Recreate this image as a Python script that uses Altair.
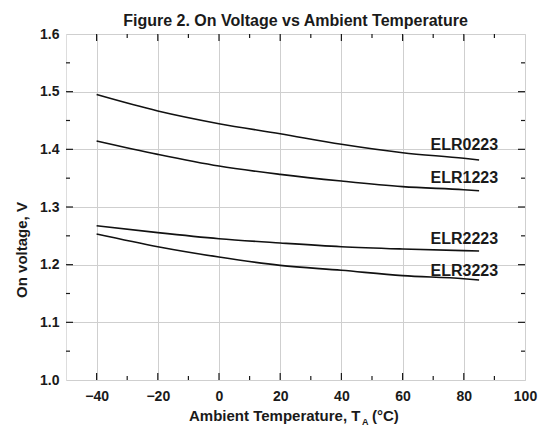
import altair as alt
import pandas as pd

# ---- data ----
temps = [-40, -20, 0, 20, 40, 60, 80, 85]
elr0223 = [1.495, 1.4665, 1.4445, 1.427, 1.4087, 1.394, 1.3844, 1.3815]
elr1223 = [1.4145, 1.3913, 1.371, 1.3566, 1.345, 1.3353, 1.330, 1.3283]
elr2223 = [1.2676, 1.2555, 1.245, 1.2376, 1.2312, 1.2272, 1.2243, 1.2237]
elr3223 = [1.2532, 1.2312, 1.2133, 1.1988, 1.1902, 1.181, 1.1757, 1.1734]
series_names = ["ELR0223", "ELR1223", "ELR2223", "ELR3223"]
label_volts = [1.398, 1.341, 1.2355, 1.181]
label_temp = 85

x_tick_values = [-40, -20, 0, 20, 40, 60, 80, 100]
y_tick_values = [1.0, 1.1, 1.2, 1.3, 1.4, 1.5, 1.6]
x_major = [-40, -20, 0, 20, 40, 60, 80]
x_minor = [-30, -10, 10, 30, 50, 70, 90]
y_major = [1.1, 1.2, 1.3, 1.4, 1.5]
y_minor = [1.05, 1.15, 1.25, 1.35, 1.45, 1.55]

title_text = "Figure 2. On Voltage vs Ambient Temperature"
x_title_main = "Ambient Temperature, T"
x_title_sub = "A"
x_title_end = "(°C)"
y_title = "On voltage, V"

# ---- build tables ----
rows = []
for name, vals in zip(series_names, [elr0223, elr1223, elr2223, elr3223]):
    for t, v in zip(temps, vals):
        rows.append({"series": name, "t": t, "v": v})
lines_df = pd.DataFrame(rows)
labels_df = pd.DataFrame({"series": series_names, "t": [label_temp] * 4, "v": label_volts})
xmaj_df = pd.DataFrame({"t": x_major})
xmin_df = pd.DataFrame({"t": x_minor})
ymaj_df = pd.DataFrame({"v": y_major})
ymin_df = pd.DataFrame({"v": y_minor})
one_df = pd.DataFrame({"k": [0]})

W, H = 459, 346
FONT = "Liberation Sans"
INK = "#1a1a1a"

xscale = alt.Scale(domain=[-50, 100], nice=False, zero=False)
yscale = alt.Scale(domain=[1.0, 1.6], nice=False, zero=False)
xaxis = alt.Axis(values=x_tick_values, title=None, grid=True, gridColor="#cfcfcf", gridWidth=1,
                 domain=False, ticks=False, tickSize=0, labelFont=FONT, labelFontWeight="bold",
                 labelFontSize=14, labelColor=INK, labelPadding=9, labelFlush=False)
yaxis = alt.Axis(values=y_tick_values, title=None, grid=True, gridColor="#cfcfcf", gridWidth=1,
                 domain=False, ticks=False, tickSize=0, labelFont=FONT, labelFontWeight="bold",
                 labelFontSize=14, labelColor=INK, labelPadding=7, labelFlush=False, format=".1f")


def X(f):
    return alt.X(f, type="quantitative", scale=xscale, axis=xaxis)


def Y(f):
    return alt.Y(f, type="quantitative", scale=yscale, axis=yaxis)


lines = alt.Chart(lines_df).mark_line(color="#111111", strokeWidth=1.6, interpolate="monotone").encode(
    x=X("t"), y=Y("v"), detail="series:N"
)

labels = alt.Chart(labels_df).mark_text(
    align="right", baseline="alphabetic", dx=19, font=FONT, fontWeight="bold", fontSize=16, color=INK
).encode(x=X("t"), y=Y("v"), text="series:N")

tick_style = dict(color=INK, strokeWidth=1.2)
xb_major = alt.Chart(xmaj_df).mark_rule(**tick_style).encode(x=X("t"), y=alt.value(H), y2=alt.value(H - 7))
xt_major = alt.Chart(xmaj_df).mark_rule(**tick_style).encode(x=X("t"), y=alt.value(0), y2=alt.value(7))
xb_minor = alt.Chart(xmin_df).mark_rule(**tick_style).encode(x=X("t"), y=alt.value(H), y2=alt.value(H - 4))
xt_minor = alt.Chart(xmin_df).mark_rule(**tick_style).encode(x=X("t"), y=alt.value(0), y2=alt.value(4))
yl_major = alt.Chart(ymaj_df).mark_rule(**tick_style).encode(y=Y("v"), x=alt.value(0), x2=alt.value(7))
yr_major = alt.Chart(ymaj_df).mark_rule(**tick_style).encode(y=Y("v"), x=alt.value(W), x2=alt.value(W - 7))
yl_minor = alt.Chart(ymin_df).mark_rule(**tick_style).encode(y=Y("v"), x=alt.value(0), x2=alt.value(4))
yr_minor = alt.Chart(ymin_df).mark_rule(**tick_style).encode(y=Y("v"), x=alt.value(W), x2=alt.value(W - 4))

txt = dict(font=FONT, fontWeight="bold", color=INK)
title_mark = alt.Chart(one_df).mark_text(align="center", baseline="alphabetic", fontSize=16, **txt).encode(
    x=alt.value(W / 2), y=alt.value(-8), text=alt.value(title_text))
xt_main = alt.Chart(one_df).mark_text(align="left", baseline="alphabetic", fontSize=15, **txt).encode(
    x=alt.value(123), y=alt.value(387), text=alt.value(x_title_main))
xt_sub = alt.Chart(one_df).mark_text(align="left", baseline="alphabetic", fontSize=9, **txt).encode(
    x=alt.value(296), y=alt.value(391), text=alt.value(x_title_sub))
xt_end = alt.Chart(one_df).mark_text(align="left", baseline="alphabetic", fontSize=15, **txt).encode(
    x=alt.value(306), y=alt.value(387), text=alt.value(x_title_end))
yt = alt.Chart(one_df).mark_text(align="center", baseline="alphabetic", angle=270, fontSize=15, **txt).encode(
    x=alt.value(-39), y=alt.value(216), text=alt.value(y_title))

chart = alt.layer(
    lines, labels,
    xb_major, xt_major, xb_minor, xt_minor, yl_major, yr_major, yl_minor, yr_minor,
    title_mark, xt_main, xt_sub, xt_end, yt,
).properties(
    width=W, height=H,
    autosize=alt.AutoSizeParams(type="none"),
    padding={"left": 66, "top": 34, "right": 22, "bottom": 56},
).configure_view(stroke=INK, strokeWidth=1.5).configure(background="white")

chart.save("out.html", embed_options={"renderer": "svg", "actions": False})
